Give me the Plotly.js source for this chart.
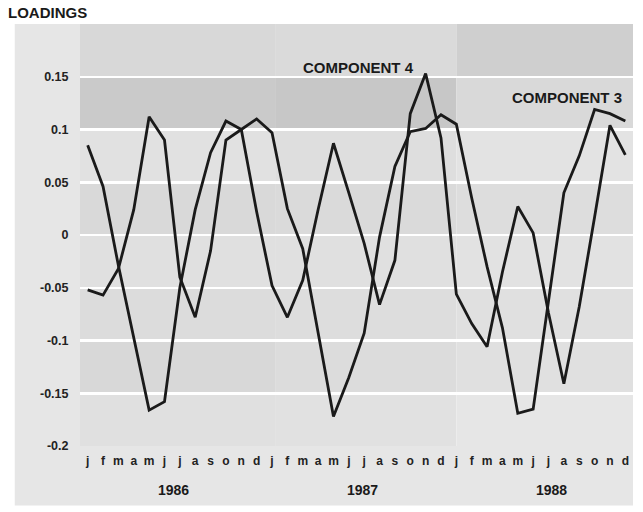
<!DOCTYPE html>
<html>
<head>
<meta charset="utf-8">
<script src="https://cdn.plot.ly/plotly-3.0.1.min.js"></script>
<style>html,body{margin:0;padding:0;background:#fff;}#chart{width:643px;height:512px;}</style>
</head>
<body>
<div id="chart"></div>
<script>
// Month labels for Jan 1986 .. Dec 1988
var monthLabels = ['j','f','m','a','m','j','j','a','s','o','n','d',
                   'j','f','m','a','m','j','j','a','s','o','n','d',
                   'j','f','m','a','m','j','j','a','s','o','n','d'];
var years = ['1986','1987','1988'];
var yTickVals = [0.15, 0.1, 0.05, 0, -0.05, -0.1, -0.15, -0.2];
var yTickText = ['0.15','0.1','0.05','0','-0.05','-0.1','-0.15','-0.2'];

var component4 = [0.085, 0.046, -0.029, -0.097, -0.166, -0.158, -0.05, 0.024, 0.078, 0.108, 0.1, 0.022,
                  -0.048, -0.078, -0.043, 0.024, 0.087, 0.04, -0.008, -0.066, -0.024, 0.115, 0.153, 0.092,
                  -0.056, -0.084, -0.106, -0.035, 0.027, 0.002, -0.074, -0.141, -0.068, 0.017, 0.104, 0.076];
var component3 = [-0.052, -0.057, -0.032, 0.024, 0.112, 0.09, -0.04, -0.078, -0.015, 0.09, 0.1, 0.11,
                  0.097, 0.025, -0.013, -0.092, -0.172, -0.135, -0.093, -0.002, 0.065, 0.098, 0.101, 0.114,
                  0.105, 0.035, -0.03, -0.088, -0.169, -0.165, -0.062, 0.04, 0.075, 0.119, 0.115, 0.108];

var xIdx = monthLabels.map(function(_, i){ return i; });

var lineStyle = {color:'#1a1a1a', width:2.8};
var traces = [
  {x:xIdx, y:component4, type:'scatter', mode:'lines', line:lineStyle, name:'COMPONENT 4', hoverinfo:'skip'},
  {x:xIdx, y:component3, type:'scatter', mode:'lines', line:lineStyle, name:'COMPONENT 3', hoverinfo:'skip'}
];

// background bands (scan-like grey paper)
var colBounds = [-0.5, 12.2, 24, 35.5];
var bandEdges = [0.2, 0.15, 0.1, 0.05, 0, -0.05, -0.1, -0.15, -0.2];
var bandColors = [
  ['#d8d8d8','#cacaca','#e1e1e1','#d9d9d9','#e0e0e0','#dcdcdc','#d8d8d8','#e0e0e0'],
  ['#dadada','#c7c7c7','#dedede','#dadada','#e0e0e0','#dddddd','#dcdcdc','#e1e1e1'],
  ['#cfcfcf','#d9d9d9','#e3e3e3','#dddddd','#e2e2e2','#e0e0e0','#e0e0e0','#e6e6e6']
];
var shapes = [];
// outer paper-like area (labels)
shapes.push({type:'rect', xref:'paper', yref:'paper', x0:-0.118, x1:1.0, y0:-0.141, y1:1.0,
             fillcolor:'#e6e6e6', line:{width:0}, layer:'below'});
for (var c = 0; c < 3; c++) {
  for (var b = 0; b < bandColors[c].length; b++) {
    shapes.push({type:'rect', xref:'x', yref:'y', x0:colBounds[c], x1:colBounds[c+1],
                 y0:bandEdges[b+1], y1:bandEdges[b], fillcolor:bandColors[c][b],
                 line:{width:0}, layer:'below'});
  }
}
// year separators (white)
[12.2, 24].forEach(function(v){
  shapes.push({type:'line', xref:'x', yref:'paper', x0:v, x1:v, y0:0, y1:1,
               line:{color:'#ffffff', width:3}, layer:'below'});
});

var annFont = {family:'Liberation Sans, Arial, sans-serif', size:15, color:'#1a1a1a', weight:'bold'};
var annotations = [
  {text:'LOADINGS', xref:'paper', yref:'paper', x:-0.133, y:1.027, xanchor:'left', yanchor:'middle',
   showarrow:false, font:annFont},
  {text:'COMPONENT 4', xref:'x', yref:'y', x:17.66, y:0.159, xanchor:'center', yanchor:'middle',
   showarrow:false, font:annFont},
  {text:'COMPONENT 3', xref:'x', yref:'y', x:31.2, y:0.130, xanchor:'center', yanchor:'middle',
   showarrow:false, font:annFont}
];
var yearCenters = [5.6, 17.9, 30.2];
years.forEach(function(yr, k){
  annotations.push({text:yr, xref:'x', yref:'paper', x:yearCenters[k], y:-0.105,
    xanchor:'center', yanchor:'middle', showarrow:false,
    font:{family:'Liberation Sans, Arial, sans-serif', size:14, color:'#1a1a1a', weight:'bold'}});
});

var layout = {
  width:643, height:512,
  margin:{l:80, r:10, t:24, b:66},
  paper_bgcolor:'#ffffff',
  plot_bgcolor:'#dcdcdc',
  showlegend:false,
  xaxis:{range:[-0.5, 35.5], tickmode:'array', tickvals:xIdx, ticktext:monthLabels,
         showgrid:false, zeroline:false, showline:false, ticks:'outside', ticklen:4,
         tickcolor:'rgba(0,0,0,0)',
         tickfont:{family:'Liberation Sans, Arial, sans-serif', size:12, color:'#222', weight:'bold'}},
  yaxis:{range:[-0.2, 0.2], tickmode:'array', tickvals:yTickVals, ticktext:yTickText,
         showgrid:true, gridcolor:'#ffffff', gridwidth:2.5, zeroline:false, showline:false,
         ticks:'outside', ticklen:8, tickcolor:'rgba(0,0,0,0)',
         tickfont:{family:'Liberation Sans, Arial, sans-serif', size:12.5, color:'#222', weight:'bold'}},
  shapes:shapes,
  annotations:annotations
};

Plotly.newPlot('chart', traces, layout, {staticPlot:true, displayModeBar:false});
</script>
</body>
</html>
